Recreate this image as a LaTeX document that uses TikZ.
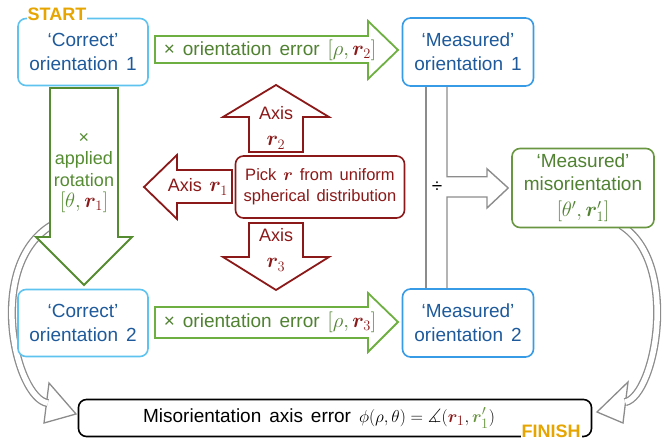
\documentclass[tikz,border=0pt]{standalone}
\usepackage{fontspec}
\setmainfont{Liberation Sans}[WordSpace={1.5}]
\usepackage{amsmath,amssymb}
\usepackage{bm}
\usepackage{tikz}
\usetikzlibrary{calc}
\usetikzlibrary{backgrounds}

\definecolor{corblue}{RGB}{95,195,240}
\definecolor{meablue}{RGB}{55,155,230}
\definecolor{txtblue}{RGB}{30,90,155}
\definecolor{errgreen}{RGB}{110,175,65}
\definecolor{rotgreen}{RGB}{85,140,50}
\definecolor{misgreen}{RGB}{105,150,65}
\definecolor{txtgreen}{RGB}{80,130,50}
\definecolor{axisred}{RGB}{140,25,25}
\definecolor{tagorange}{RGB}{230,165,0}
\definecolor{flowgray}{RGB}{140,140,140}

% math set a little larger than the text
\newcommand\mathsz[2]{{\fontsize{#1}{#1}\selectfont$#2$}}

\tikzset{
	box/.style={rounded corners=8pt, line width=1.6pt, fill=white, align=center, inner sep=0pt, font=\fontsize{19}{24}\selectfont},
	corbox/.style={box, draw=corblue, text=txtblue, minimum width=130pt, minimum height=67pt},
	meabox/.style={box, draw=meablue, text=txtblue, minimum width=131pt, minimum height=68pt},
	misbox/.style={box, draw=misgreen, text=txtgreen, minimum width=142pt, minimum height=79pt, font=\fontsize{19}{23}\selectfont},
	pickbox/.style={box, draw=axisred, text=axisred, minimum width=169pt, minimum height=62pt, font=\fontsize{16.5}{21}\selectfont},
	finbox/.style={box, draw=black, minimum width=513pt, minimum height=37pt},
	errarrow/.style={draw=errgreen, line width=1.8pt, fill=white},
	rotarrow/.style={draw=rotgreen, line width=1.8pt, fill=white},
	axisarrow/.style={draw=axisred, line width=1.8pt, fill=white},
	flowline/.style={draw=flowgray, line width=1.4pt},
	flowshaft/.style={draw=flowgray, line width=1.3pt, double=white, double distance=5.5pt},
	flowhead/.style={draw=flowgray, line width=1.3pt, fill=white},
	label/.style={align=center, inner sep=0pt, font=\fontsize{19}{22}\selectfont},
	tag/.style={fill=white, inner sep=1pt, text=tagorange, font=\bfseries\fontsize{18}{18}\selectfont}
}

\begin{document}
\begin{tikzpicture}[x=1pt, y=-1pt]
	\useasboundingbox (0,0) rectangle (664,443);

	\node (cor1) [corbox] at (83,52) {‘Correct’\\orientation 1};
	\node (mea1) [meabox] at (468,52) {‘Measured’\\orientation 1};
	\node (cor2) [corbox] at (83,323) {‘Correct’\\orientation 2};
	\node (mea2) [meabox] at (468,323) {‘Measured’\\orientation 2};
	\node (misor) [misbox] at (583,188) {‘Measured’\\misorientation\\[3pt]\mathsz{21}{[\theta',\bm{r}'_1]}};
	\node (pick) [pickbox] at (320,187) {Pick \mathsz{19}{\bm{r}} from uniform\\spherical distribution};
	\node (fin) [finbox] at (335,418) {};
	\node (fintext) [label] at (319,418) {Misorientation axis error \mathsz{19}{\phi(\rho,\theta)=\measuredangle({\color{axisred}\bm{r}_1},{\color{misgreen}\bm{r}'_1})}};

	% orientation errors
	\draw [errarrow] (155,36) -- (368,36) -- (368,21) -- (398,50) -- (368,79) -- (368,63) -- (155,63) -- cycle;
	\node (err2) [label, text=txtgreen] at (270,50) {× orientation error \mathsz{21}{[\rho,{\color{axisred}\bm{r}_2}]}};
	\draw [errarrow] (155,307) -- (368,307) -- (368,293) -- (398,322) -- (368,352) -- (368,338) -- (155,338) -- cycle;
	\node (err3) [label, text=txtgreen] at (270,322) {× orientation error \mathsz{21}{[\rho,{\color{axisred}\bm{r}_3}]}};

	% applied rotation
	\draw [rotarrow] (50,88) -- (118,88) -- (118,237) -- (132,237) -- (84,285) -- (36,237) -- (50,237) -- cycle;
	\node (rot) [label, text=rotgreen, font=\fontsize{18}{21.5}\selectfont] at (84,173) {×\\applied\\rotation\\\mathsz{20}{[\theta,{\color{axisred}\bm{r}_1}]}};

	% random axes
	\draw [axisarrow] (249,152) -- (249,117) -- (223,117) -- (276,85) -- (329,117) -- (303,117) -- (303,152) -- cycle;
	\draw [axisarrow] (232,170) -- (177,170) -- (177,155) -- (144,187) -- (177,219) -- (177,203) -- (232,203) -- cycle;
	\draw [axisarrow] (249,223) -- (249,257) -- (223,257) -- (276,290) -- (329,257) -- (303,257) -- (303,223) -- cycle;
	\node (ax2) [label, text=axisred, font=\fontsize{18}{26}\selectfont] at (276,128) {Axis\\\mathsz{20}{\bm{r}_2}};
	\node (ax1) [label, text=axisred, font=\fontsize{18}{22}\selectfont] at (198,187) {Axis \mathsz{20}{\bm{r}_1}};
	\node (ax3) [label, text=axisred, font=\fontsize{18}{26}\selectfont] at (276,250) {Axis\\\mathsz{20}{\bm{r}_3}};

	% division
	\draw [flowline] ([xshift=-42pt]mea1.south) -- ([xshift=-42pt]mea2.north);
	\draw [flowline] ([xshift=-21pt]mea1.south) -- ++(0,90) -- ++(40,0) -- ++(0,-8) -- ([xshift=-3pt]misor.west) -- (487,208) -- (487,197) -- (447,197) -- ([xshift=-21pt]mea2.north);
	\node (div) [label] at (437,187) {÷};

	\node (start) [tag] at (57,14) {START};
	\node (finish) [tag] at (551,431) {FINISH};

	\coordinate (lstart) at (52,225);
	\coordinate (lend) at (47,403);
	\coordinate (rend) at (626,402);
	\begin{scope}[on background layer]
		\draw [flowhead] (49,383) -- (76,414) -- (44,423) -- cycle;
		\draw [flowshaft, shorten >=-0.8pt] (lstart) .. controls (-15,265) and (15,398) .. (lend);
		\draw [flowhead] (628,382) -- (597,412) -- (623,423) -- cycle;
		\draw [flowshaft, shorten >=-0.8pt] ([xshift=38pt, yshift=3pt]misor.south) .. controls (680,262) and (656,395) .. (rend);
	\end{scope}
\end{tikzpicture}
\end{document}
